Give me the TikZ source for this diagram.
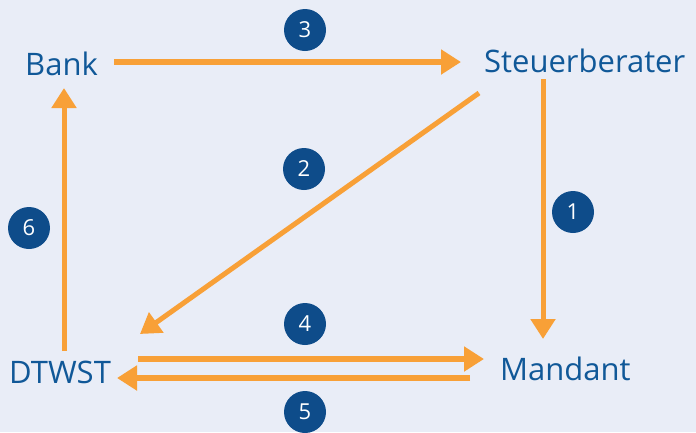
\documentclass[tikz,border=0pt]{standalone}
\usepackage{fontspec}
\setmainfont{Open Sans}
\usetikzlibrary{arrows.meta}
\definecolor{bgc}{RGB}{233,237,247}
\definecolor{txtc}{RGB}{16,88,152}
\definecolor{circc}{RGB}{14,76,138}
\definecolor{arrc}{RGB}{248,160,55}
\begin{document}
\begin{tikzpicture}[x=1pt,y=-1pt,
  lbl/.style={anchor=base west,inner sep=0pt,text=txtc,font=\fontsize{31}{36}\selectfont},
  num/.style={circle,fill=circc,minimum size=42pt,inner sep=0pt,text=white,font=\fontsize{22}{26}\selectfont},
  flow/.style={draw=arrc,line width=6pt,-{Triangle[length=20pt,width=24pt]}}]
\fill[bgc] (0,0) rectangle (696,432);
\useasboundingbox (0,0) rectangle (696,432);
% labels
\node[lbl] (bank) at (25,75) {Bank};
\node[lbl] (stb) at (484,72) {Steuerberater};
\node[lbl] (dtwst) at (9,383) {DTWST};
\node[lbl] (mand) at (500,380) {Mandant};
% arrow endpoints
\coordinate (a3s) at (114,62);
\coordinate (a3e) at (461,62);
\coordinate (a1s) at (543,79);
\coordinate (a1e) at (543,339);
\coordinate (a6s) at (64,351);
\coordinate (a6e) at (64,88);
\coordinate (a2s) at (479,93);
\coordinate (a2e) at (140,334);
\coordinate (a4s) at (138,359);
\coordinate (a4e) at (484,359);
\coordinate (a5s) at (470,378);
\coordinate (a5e) at (117,378);
\draw[flow] (a3s) -- (a3e);
\draw[flow,line width=5pt] (a1s) -- (a1e);
\draw[flow,line width=5pt] (a6s) -- (a6e);
\draw[flow,line width=5pt] (a2s) -- (a2e);
\draw[flow] (a4s) -- (a4e);
\draw[flow] (a5s) -- (a5e);
% numbers
\node[num] (n3) at (305,30) {3};
\node[num] (n2) at (304,169) {2};
\node[num] (n6) at (29,228) {6};
\node[num] (n1) at (573,212) {1};
\node[num] (n4) at (305,324) {4};
\node[num] (n5) at (305,412) {5};
\end{tikzpicture}
\end{document}
